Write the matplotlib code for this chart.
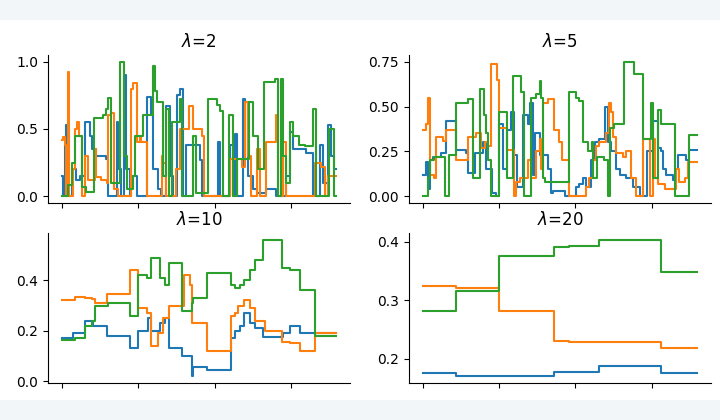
import matplotlib
matplotlib.use("Agg")
import matplotlib.pyplot as plt
from matplotlib.patches import Rectangle

# step series: x = start of each step, y = value held from there on
x_end = 359
tick_pos = [0, 100, 200, 300]

# lambda = 2
l2_blue_x = [0, 2, 4, 6, 8, 13, 19, 24, 30, 37, 40, 45, 58, 60, 72, 74, 78, 81, 84, 89, 91, 98,
             111, 117, 120, 126, 130, 137, 142, 146, 151, 155, 159, 163, 181, 183, 205, 207, 220,
             224, 227, 230, 237, 240, 244, 251, 255, 268, 281, 294, 299, 303, 320, 329, 338, 342,
             349, 353, 357]
l2_blue_y = [0.15, 0.0, 0.38, 0.53, 0.0, 0.2, 0.12, 0.15, 0.55, 0.45, 0.35, 0.3, 0.28, 0.0, 0.55,
             0.2, 0.0, 0.9, 0.2, 0.0, 0.15, 0.0, 0.74, 0.6, 0.2, 0.05, 0.0, 0.67, 0.15, 0.0, 0.75,
             0.8, 0.0, 0.38, 0.27, 0.0, 0.4, 0.0, 0.38, 0.0, 0.46, 0.0, 0.72, 0.7, 0.15, 0.05, 0.02,
             0.05, 0.0, 0.15, 0.48, 0.35, 0.32, 0.0, 0.38, 0.1, 0.53, 0.3, 0.2]
l2_orange_x = [0, 1, 4, 6, 8, 10, 15, 18, 20, 23, 26, 30, 35, 43, 45, 52, 59, 61, 65, 69, 74, 91,
               93, 98, 102, 104, 111, 131, 133, 137, 150, 155, 166, 172, 183, 186, 220, 236, 240,
               244, 248, 255, 259, 268, 281, 283, 290, 294, 331, 340, 345, 349]
l2_orange_y = [0.42, 0.44, 0.38, 0.0, 0.92, 0.0, 0.2, 0.5, 0.55, 0.45, 0.0, 0.3, 0.12, 0.35, 0.14,
               0.12, 0.1, 0.6, 0.62, 0.05, 0.0, 0.8, 0.84, 0.4, 0.45, 0.4, 0.0, 0.3, 0.25, 0.0,
               0.2, 0.5, 0.67, 0.5, 0.45, 0.0, 0.28, 0.22, 0.7, 0.3, 0.0, 0.35, 0.0, 0.4, 0.6, 0.0,
               0.4, 0.0, 0.25, 0.22, 0.0, 0.15]
l2_green_x = [0, 8, 13, 18, 26, 32, 42, 54, 58, 60, 65, 76, 81, 85, 93, 96, 106, 119, 122, 125,
              133, 136, 141, 144, 155, 158, 172, 176, 192, 203, 207, 211, 219, 224, 229, 245, 250,
              257, 265, 279, 283, 287, 290, 294, 299, 303, 310, 318, 329, 333, 350, 357]
l2_green_y = [0.0, 0.08, 0.25, 0.45, 0.07, 0.03, 0.58, 0.6, 0.65, 0.73, 0.1, 1.0, 0.3, 0.05, 0.15,
              0.45, 0.6, 0.97, 0.78, 0.7, 0.15, 0.65, 0.0, 0.55, 0.72, 0.0, 0.45, 0.02, 0.72, 0.68,
              0.63, 0.0, 0.6, 0.0, 0.28, 0.7, 0.45, 0.2, 0.85, 0.87, 0.0, 0.87, 0.3, 0.1, 0.55,
              0.45, 0.38, 0.37, 0.65, 0.0, 0.5, 0.0]

# lambda = 5
l5_blue_x = [0, 4, 7, 9, 13, 24, 30, 31, 44, 57, 59, 68, 79, 83, 91, 96, 100, 105, 111, 116, 120,
             124, 131, 138, 140, 144, 147, 153, 164, 168, 170, 186, 201, 205, 210, 214, 220, 225,
             231, 239, 242, 247, 253, 258, 266, 275, 284, 293, 301, 308, 312, 315, 319, 328, 332,
             334, 345, 349]
l5_blue_y = [0.12, 0.19, 0.04, 0.2, 0.22, 0.24, 0.38, 0.42, 0.26, 0.24, 0.13, 0.24, 0.3, 0.15,
             0.02, 0.0, 0.4, 0.15, 0.37, 0.47, 0.23, 0.05, 0.45, 0.4, 0.52, 0.12, 0.35, 0.23, 0.15,
             0.02, 0.03, 0.0, 0.05, 0.07, 0.1, 0.05, 0.2, 0.3, 0.32, 0.5, 0.3, 0.25, 0.15, 0.12,
             0.1, 0.05, 0.0, 0.25, 0.42, 0.27, 0.25, 0.15, 0.12, 0.09, 0.15, 0.23, 0.2, 0.26]
l5_orange_x = [0, 4, 7, 10, 15, 17, 26, 30, 44, 59, 70, 77, 81, 85, 90, 97, 100, 111, 119, 122,
               127, 138, 142, 148, 153, 155, 157, 164, 172, 179, 183, 192, 214, 218, 223, 227, 231,
               240, 244, 247, 249, 253, 262, 266, 273, 279, 288, 297, 301, 304, 308, 317, 332, 335,
               343, 347]
l5_orange_y = [0.37, 0.4, 0.55, 0.12, 0.1, 0.33, 0.31, 0.37, 0.2, 0.33, 0.35, 0.27, 0.3, 0.28,
               0.74, 0.65, 0.38, 0.26, 0.0, 0.08, 0.1, 0.2, 0.1, 0.25, 0.32, 0.15, 0.52, 0.54,
               0.37, 0.3, 0.2, 0.0, 0.05, 0.1, 0.2, 0.28, 0.3, 0.35, 0.52, 0.47, 0.33, 0.24, 0.22,
               0.25, 0.1, 0.0, 0.32, 0.0, 0.32, 0.1, 0.07, 0.04, 0.15, 0.08, 0.1, 0.19]
l5_green_x = [0, 7, 10, 15, 29, 34, 44, 59, 66, 75, 80, 83, 85, 89, 100, 111, 118, 129, 133, 142,
              149, 153, 155, 157, 160, 191, 201, 205, 210, 216, 221, 223, 228, 238, 242, 245, 251,
              264, 277, 288, 299, 301, 308, 312, 330, 349]
l5_green_y = [0.0, 0.1, 0.2, 0.22, 0.0, 0.23, 0.52, 0.54, 0.1, 0.6, 0.45, 0.35, 0.2, 0.0, 0.47,
              0.1, 0.67, 0.58, 0.0, 0.55, 0.57, 0.64, 0.55, 0.1, 0.08, 0.58, 0.55, 0.53, 0.3, 0.25,
              0.3, 0.1, 0.22, 0.2, 0.0, 0.38, 0.4, 0.75, 0.68, 0.32, 0.52, 0.1, 0.48, 0.4, 0.0,
              0.34]

# lambda = 10
l10_blue_x = [0, 15, 31, 41, 59, 90, 100, 113, 117, 128, 135, 141, 158, 170, 172, 190, 222, 227,
              233, 238, 247, 253, 264, 290, 299, 312]
l10_blue_y = [0.17, 0.19, 0.24, 0.22, 0.18, 0.13, 0.2, 0.25, 0.2, 0.23, 0.25, 0.13, 0.1, 0.02,
              0.055, 0.045, 0.17, 0.2, 0.22, 0.27, 0.23, 0.21, 0.175, 0.19, 0.22, 0.19]
l10_orange_x = [0, 17, 31, 39, 43, 59, 90, 100, 111, 117, 126, 133, 141, 160, 168, 171, 190, 221,
                227, 231, 238, 246, 253, 266, 288, 299, 312, 331]
l10_orange_y = [0.32, 0.335, 0.33, 0.325, 0.31, 0.345, 0.44, 0.29, 0.27, 0.14, 0.19, 0.25, 0.3,
                0.42, 0.38, 0.23, 0.12, 0.26, 0.27, 0.3, 0.32, 0.29, 0.24, 0.2, 0.155, 0.15, 0.12,
                0.19]
l10_green_x = [0, 17, 31, 39, 43, 61, 90, 100, 111, 117, 128, 135, 141, 158, 170, 172, 190, 222,
               227, 233, 238, 246, 253, 264, 288, 299, 312, 331]
l10_green_y = [0.165, 0.17, 0.22, 0.24, 0.3, 0.31, 0.26, 0.42, 0.41, 0.49, 0.41, 0.38, 0.47,
               0.28, 0.31, 0.33, 0.43, 0.38, 0.37, 0.38, 0.4, 0.44, 0.48, 0.56, 0.45, 0.44, 0.36,
               0.18]

# lambda = 20
l20_x = [0, 43, 100, 172, 191, 231, 312]
l20_blue_y = [0.175, 0.170, 0.171, 0.177, 0.177, 0.188, 0.175]
l20_orange_y = [0.325, 0.321, 0.282, 0.231, 0.228, 0.229, 0.219]
l20_green_y = [0.282, 0.315, 0.375, 0.391, 0.393, 0.403, 0.349]

panels = [
    ("$\\lambda$=2", [(l2_blue_x, l2_blue_y), (l2_orange_x, l2_orange_y), (l2_green_x, l2_green_y)],
     [0.0, 0.5, 1.0], "%.1f"),
    ("$\\lambda$=5", [(l5_blue_x, l5_blue_y), (l5_orange_x, l5_orange_y), (l5_green_x, l5_green_y)],
     [0.0, 0.25, 0.5, 0.75], "%.2f"),
    ("$\\lambda$=10", [(l10_blue_x, l10_blue_y), (l10_orange_x, l10_orange_y), (l10_green_x, l10_green_y)],
     [0.0, 0.2, 0.4], "%.1f"),
    ("$\\lambda$=20", [(l20_x, l20_blue_y), (l20_x, l20_orange_y), (l20_x, l20_green_y)],
     [0.2, 0.3, 0.4], "%.1f"),
]
colors = ["#1f77b4", "#ff7f0e", "#2ca02c"]

# axes boxes in figure fractions (left, bottom, width, height)
boxes = [
    [0.0667, 0.517, 0.419, 0.352],
    [0.568, 0.517, 0.419, 0.352],
    [0.0667, 0.088, 0.419, 0.357],
    [0.568, 0.088, 0.419, 0.357],
]

fig = plt.figure(figsize=(7.2, 4.2), dpi=100)
fig.patch.set_facecolor("#f3f6f9")
# white card between the page strips
fig.patches.append(Rectangle((0, 20 / 420), 1, 380 / 420, transform=fig.transFigure,
                             facecolor="white", edgecolor="none", zorder=-10))

for (title, series, yt, fmt), box in zip(panels, boxes):
    ax = fig.add_axes(box)
    ax.set_facecolor("white")
    for (xs, ys), c in zip(series, colors):
        ax.step(list(xs) + [x_end], list(ys) + [ys[-1]], where="post", color=c, lw=1.5)
    ax.set_title(title, fontsize=12)
    ax.set_xticks(tick_pos)
    ax.set_xticklabels([])
    ax.set_yticks(yt)
    ax.set_yticklabels([fmt % v for v in yt])
    ax.tick_params(labelsize=10)
    ax.spines["top"].set_visible(False)
    ax.spines["right"].set_visible(False)

fig.savefig("out.png", dpi=100, facecolor=fig.get_facecolor())
